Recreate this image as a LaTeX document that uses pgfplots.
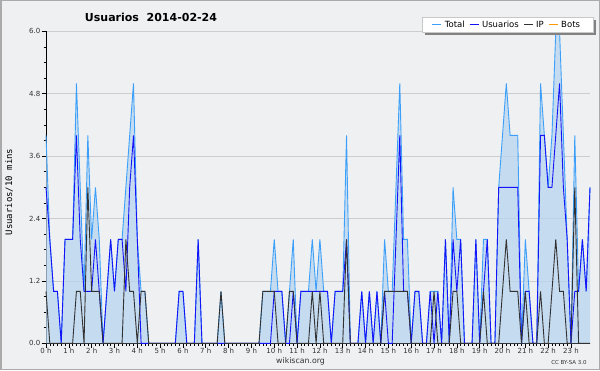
\documentclass[border=0pt]{standalone}
\usepackage{pgfplots}
\pgfplotsset{compat=1.18}
\usepackage{pgfplotstable}
\usepackage{fontspec}
\setmainfont{DejaVu Sans}
\newfontfamily\monofont{DejaVu Sans Mono}
\definecolor{bgc}{RGB}{239,240,242}
\definecolor{framec}{RGB}{170,170,170}
\definecolor{fillc}{RGB}{184,213,239}
\definecolor{totc}{RGB}{60,160,250}
\definecolor{usrc}{RGB}{20,20,250}
\definecolor{ipc}{RGB}{50,50,50}
\definecolor{botc}{RGB}{255,153,0}
\definecolor{gridc}{RGB}{205,205,208}
\definecolor{labc}{RGB}{50,50,50}
\definecolor{shadc}{RGB}{130,130,130}
\definecolor{legbord}{RGB}{200,200,200}

\pgfplotstableread{
i T U IP
0 4 3 1
1 2 2 0
2 1 1 0
3 1 1 0
4 0 0 0
5 2 2 0
6 2 2 0
7 2 2 0
8 5 4 1
9 3 2 1
10 1 1 0
11 4 1 3
12 2 1 1
13 3 2 1
14 2 1 1
15 0 0 0
16 1 1 0
17 2 2 0
18 1 1 0
19 2 2 0
20 2 2 0
21 3 1 2
22 4 3 1
23 5 4 1
24 2 2 0
25 1 0 1
26 1 0 1
27 0 0 0
28 0 0 0
29 0 0 0
30 0 0 0
31 0 0 0
32 0 0 0
33 0 0 0
34 0 0 0
35 1 1 0
36 1 1 0
37 0 0 0
38 0 0 0
39 0 0 0
40 2 2 0
41 0 0 0
42 0 0 0
43 0 0 0
44 0 0 0
45 0 0 0
46 1 0 1
47 0 0 0
48 0 0 0
49 0 0 0
50 0 0 0
51 0 0 0
52 0 0 0
53 0 0 0
54 0 0 0
55 0 0 0
56 0 0 0
57 1 0 1
58 1 0 1
59 1 0 1
60 2 1 1
61 1 1 0
62 1 1 0
63 0 0 0
64 1 0 1
65 2 1 1
66 0 0 0
67 1 1 0
68 1 1 0
69 1 1 0
70 2 1 1
71 1 1 0
72 2 1 1
73 1 1 0
74 1 1 0
75 0 0 0
76 1 1 0
77 1 1 0
78 1 1 0
79 4 2 2
80 0 0 0
81 0 0 0
82 0 0 0
83 1 1 0
84 0 0 0
85 1 1 0
86 0 0 0
87 1 1 0
88 0 0 0
89 2 1 1
90 1 0 1
91 1 0 1
92 3 2 1
93 5 4 1
94 2 1 1
95 2 1 1
96 0 0 0
97 1 1 0
98 1 1 0
99 0 0 0
100 0 0 0
101 1 1 0
102 1 0 1
103 1 1 0
104 0 0 0
105 2 2 0
106 0 0 0
107 3 2 1
108 2 1 1
109 2 2 0
110 0 0 0
111 0 0 0
112 0 0 0
113 2 2 0
114 0 0 0
115 2 1 1
116 2 2 0
117 0 0 0
118 0 0 0
119 3 3 0
120 4 3 1
121 5 3 2
122 4 3 1
123 4 3 1
124 4 3 1
125 0 0 0
126 2 1 1
127 1 1 0
128 0 0 0
129 0 0 0
130 5 4 1
131 4 4 0
132 3 3 0
133 4 3 1
134 6 4 2
135 6 5 1
136 4 3 1
137 2 2 0
138 0 0 0
139 4 1 3
140 1 1 0
141 2 2 0
142 1 1 0
143 3 3 0
}\datatab

\begin{document}
\begin{tikzpicture}[x=1pt,y=1pt]
\fill[bgc] (0,0) rectangle (600,370);
\draw[framec,line width=1.5pt] (0.75,0.75) rectangle (599.25,369.25);
\begin{axis}[
  at={(46pt,26.7pt)}, anchor=south west,
  scale only axis, width=544pt, height=312pt,
  xmin=0, xmax=143, ymin=0, ymax=6,
  clip=false,
  axis x line*=bottom, axis y line*=left,
  axis line style={-, black, line width=0.8pt},
  tick align=outside,
  major tick length=4.5pt, minor tick length=2.5pt,
  every tick/.style={black, line width=0.6pt},
  xtick={0,6,...,138},
  xticklabels={0 h,1 h,2 h,3 h,4 h,5 h,6 h,7 h,8 h,9 h,10 h,11 h,12 h,13 h,14 h,15 h,16 h,17 h,18 h,19 h,20 h,21 h,22 h,23 h},
  minor x tick num=5,
  ytick={0,1.2,2.4,3.6,4.8,6},
  yticklabels={0.0,1.2,2.4,3.6,4.8,6.0},
  minor y tick num=3,
  ymajorgrids, grid style={gridc, line width=0.8pt},
  ticklabel style={font=\fontsize{7}{8}\selectfont, text=labc},
  xticklabel style={inner sep=0.5pt},
  yticklabel style={inner sep=1pt},
  legend columns=4,
  legend style={at={(0.8483,1.0208)}, anchor=center,
    font=\fontsize{8.5}{10}\selectfont, draw=none, fill=none,
    inner xsep=0pt, inner ysep=0pt,
    nodes={inner xsep=3pt, inner ysep=1pt},
    /tikz/every even column/.append style={column sep=1.5pt}},
  legend image code/.code={\draw[#1] (0pt,0pt) -- (9pt,0pt);},
]
\addplot[fill=fillc, fill opacity=0.75, draw=none, forget plot] table[x=i,y=T]{\datatab} \closedcycle;
\addplot[totc, line width=0.9pt] table[x=i,y=T]{\datatab};
\addlegendentry{Total}
\addplot[usrc, line width=0.9pt] table[x=i,y=U]{\datatab};
\addlegendentry{Usuarios}
\addplot[ipc, line width=0.9pt] table[x=i,y=IP]{\datatab};
\addlegendentry{IP}
\addlegendimage{botc, line width=0.9pt}
\addlegendentry{Bots}
\fill[shadc] (rel axis cs:0.6958,0.9888) rectangle (rel axis cs:1.0101,1.0369);
\filldraw[fill=white, draw=legbord, line width=0.8pt] (rel axis cs:0.6912,0.9968) rectangle (rel axis cs:1.0055,1.0449);
\end{axis}
\node[font=\bfseries\fontsize{11}{13}\selectfont] at (151,353) {Usuarios\ \ 2014-02-24};
\node[rotate=90, font=\monofont\fontsize{9}{10}\selectfont] at (9,178) {Usuarios/10 mins};
\node[font=\fontsize{7.8}{9}\selectfont, text=labc] at (300.5,9) {wikiscan.org};
\node[font=\fontsize{5.5}{6}\selectfont, text=labc] at (569,8) {CC BY-SA 3.0};
\end{tikzpicture}
\end{document}
